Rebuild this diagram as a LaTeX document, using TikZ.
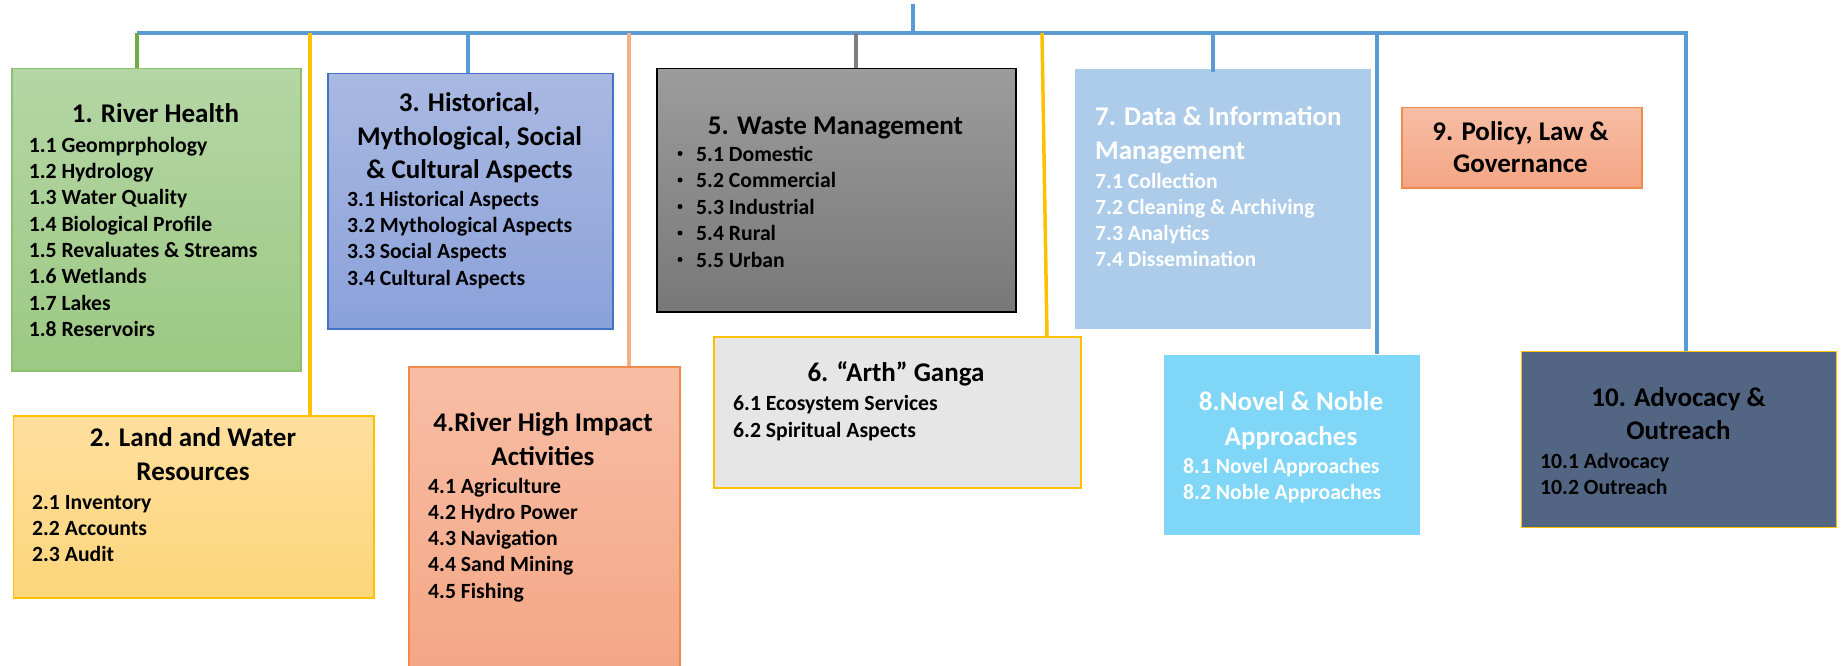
\documentclass[tikz,border=0pt]{standalone}
\usepackage{fontspec}
\setmainfont{Carlito}
\definecolor{cblue}{HTML}{5B9BD5}
\definecolor{cgreen}{HTML}{70AD47}
\definecolor{cyel}{HTML}{FFC000}
\definecolor{csalm}{HTML}{F4B183}
\definecolor{cgray}{HTML}{7F7F7F}
\definecolor{gT}{HTML}{B4D6A5}\definecolor{gB}{HTML}{9CC982}\definecolor{gD}{HTML}{8DC070}
\definecolor{yT}{HTML}{FEDF9E}\definecolor{yB}{HTML}{FDD57A}
\definecolor{bT}{HTML}{A9B9E2}\definecolor{bB}{HTML}{8BA1DA}\definecolor{bD}{HTML}{4472C4}
\definecolor{sT}{HTML}{F7BEA5}\definecolor{sB}{HTML}{F4A584}\definecolor{sD}{HTML}{F08A4B}
\definecolor{kT}{HTML}{9C9C9C}\definecolor{kB}{HTML}{787878}
\definecolor{lgray}{HTML}{E6E6E6}
\definecolor{lblue}{HTML}{ADCCEA}
\definecolor{cyan8}{HTML}{80D6F7}
\definecolor{slate}{HTML}{526582}
\tikzset{
  bx/.style={rectangle, inner sep=0pt, line width=1.5pt, anchor=north west},
  ttl/.style={font=\fontsize{27}{33}\selectfont\bfseries, anchor=base, inner sep=0pt},
  ttlw/.style={font=\fontsize{27}{33}\selectfont\bfseries, anchor=base west, inner sep=0pt},
  itm/.style={font=\fontsize{21.7}{26}\selectfont\bfseries, anchor=base west, inner sep=0pt},
  bul/.style={circle, fill=black, inner sep=0pt, minimum size=5pt},
  ln/.style={line width=3.5pt},
}
\begin{document}
\begin{tikzpicture}[x=1pt,y=-1pt]
\useasboundingbox (0,0) rectangle (1841,666);
\clip (0,0) rectangle (1841,666);
% boxes
\node[bx, draw=gD, top color=gT, bottom color=gB, minimum width=289pt, minimum height=302pt] (b1) at (11,68) {};
\node[bx, draw=cyel, top color=yT, bottom color=yB, minimum width=360.5pt, minimum height=182pt] (b2) at (12.5,415) {};
\node[bx, draw=bD, top color=bT, bottom color=bB, minimum width=285pt, minimum height=255pt] (b3) at (327,73) {};
\node[bx, draw=sD, top color=sT, bottom color=sB, minimum width=271pt, minimum height=320pt] (b4) at (408,366) {};
\node[bx, draw=black, top color=kT, bottom color=kB, minimum width=359pt, minimum height=243pt] (b5) at (656,68) {};
\node[bx, draw=cyel, fill=lgray, minimum width=367pt, minimum height=151pt] (b6) at (713,336) {};
\node[bx, fill=lblue, minimum width=296pt, minimum height=260pt] (b7) at (1074,68) {};
\node[bx, fill=cyan8, minimum width=256pt, minimum height=180pt] (b8) at (1163,354) {};
\node[bx, draw=sD, top color=sT, bottom color=sB, minimum width=240pt, minimum height=80pt] (b9) at (1401,107) {};
\node[bx, draw=cyel, line width=1pt, fill=slate, minimum width=315pt, minimum height=176pt] (b10) at (1521,351) {};
% connectors
\coordinate (top) at (913,4);
\coordinate (topb) at (913,33);
\coordinate (d1) at (137,33);
\coordinate (d2) at (310,33);
\coordinate (d3) at (468,33);
\coordinate (d4) at (629,33);
\coordinate (d5) at (856,33);
\coordinate (d6) at (1042,33);
\coordinate (d6b) at (1047,33);
\coordinate (d7) at (1213,33);
\coordinate (d8) at (1377,33);
\coordinate (d10) at (1686,33);
\draw[ln, cblue] (top) -- (topb);
\draw[ln, cblue] (d1) -- (d10) -- (d10 |- b10.north);
\draw[ln, cgreen] (d1) -- (d1 |- b1.north);
\draw[ln, cyel] (d2) -- (d2 |- b2.north);
\draw[ln, cblue] (d3) -- (d3 |- b3.north);
\draw[ln, csalm] (d4) -- (d4 |- b4.north);
\draw[ln, cgray] (d5) -- (d5 |- b5.north);
\draw[ln, cyel] (d6) -- (d6b |- b6.north);
\draw[ln, cblue] (d7) -- ([yshift=-4pt]d7 |- b7.north);
\draw[ln, cblue] (d8) -- (d8 |- b8.north);
% titles
\node[ttl] (t1) at (155.5,122.5) {1. River Health};
\node[ttl] (t2a) at (193,446.5) {2. Land and Water};
\node[ttl] (t2b) at (193,480.5) {Resources};
\node[ttl] (t3a) at (469.5,111.5) {3. Historical,};
\node[ttl] (t3b) at (469.5,145.5) {Mythological, Social};
\node[ttl] (t3c) at (469.5,178.5) {\& Cultural Aspects};
\node[ttl] (t4a) at (543,431.5) {4.River High Impact};
\node[ttl] (t4b) at (543,465.5) {Activities};
\node[ttl] (t5) at (835.5,134.5) {5. Waste Management};
\node[ttl] (t6) at (896,381.5) {6. “Arth” Ganga};
\node[ttlw, text=white] (t7a) at (1095,125.5) {7. Data \& Information};
\node[ttlw, text=white] (t7b) at (1095,159.5) {Management};
\node[ttl, text=white] (t8a) at (1291,410.5) {8.Novel \& Noble};
\node[ttl, text=white] (t8b) at (1291,445.5) {Approaches};
\node[ttl] (t9a) at (1520.5,140.5) {9. Policy, Law \&};
\node[ttl] (t9b) at (1520.5,172.5) {Governance};
\node[ttl] (t10a) at (1678.5,406.5) {10. Advocacy \&};
\node[ttl] (t10b) at (1678.5,439.5) {Outreach};
% items
\foreach \t [count=\i] in {1.1 Geomprphology,1.2 Hydrology,1.3 Water Quality,1.4 Biological Profile,1.5 Revaluates \& Streams,1.6 Wetlands,1.7 Lakes,1.8 Reservoirs}
  \node[itm] (i1-\i) at (28.6,{152.3+26.3*(\i-1)}) {\t};
\foreach \t [count=\i] in {2.1 Inventory,2.2 Accounts,2.3 Audit}
  \node[itm] (i2-\i) at (32,{509+26*(\i-1)}) {\t};
\foreach \t [count=\i] in {3.1 Historical Aspects,3.2 Mythological Aspects,3.3 Social Aspects,3.4 Cultural Aspects}
  \node[itm] (i3-\i) at (347,{206+26.4*(\i-1)}) {\t};
\foreach \t [count=\i] in {4.1 Agriculture,4.2 Hydro Power,4.3 Navigation,4.4 Sand Mining,4.5 Fishing}
  \node[itm] (i4-\i) at (428,{493+26.3*(\i-1)}) {\t};
\foreach \t [count=\i] in {5.1 Domestic,5.2 Commercial,5.3 Industrial,5.4 Rural,5.5 Urban}{
  \node[bul] (u5-\i) at (680,{161-7.5+26.5*(\i-1)}) {};
  \node[itm] (i5-\i) at (696,{161+26.5*(\i-1)}) {\t};
}
\foreach \t [count=\i] in {6.1 Ecosystem Services,6.2 Spiritual Aspects}
  \node[itm] (i6-\i) at (733,{410+27*(\i-1)}) {\t};
\foreach \t [count=\i] in {7.1 Collection,7.2 Cleaning \& Archiving,7.3 Analytics,7.4 Dissemination}
  \node[itm, text=white] (i7-\i) at (1095,{188+26*(\i-1)}) {\t};
\foreach \t [count=\i] in {8.1 Novel Approaches,8.2 Noble Approaches}
  \node[itm, text=white] (i8-\i) at (1183,{473+26*(\i-1)}) {\t};
\foreach \t [count=\i] in {10.1 Advocacy,10.2 Outreach}
  \node[itm] (i10-\i) at (1540,{468+26*(\i-1)}) {\t};
\end{tikzpicture}
\end{document}
